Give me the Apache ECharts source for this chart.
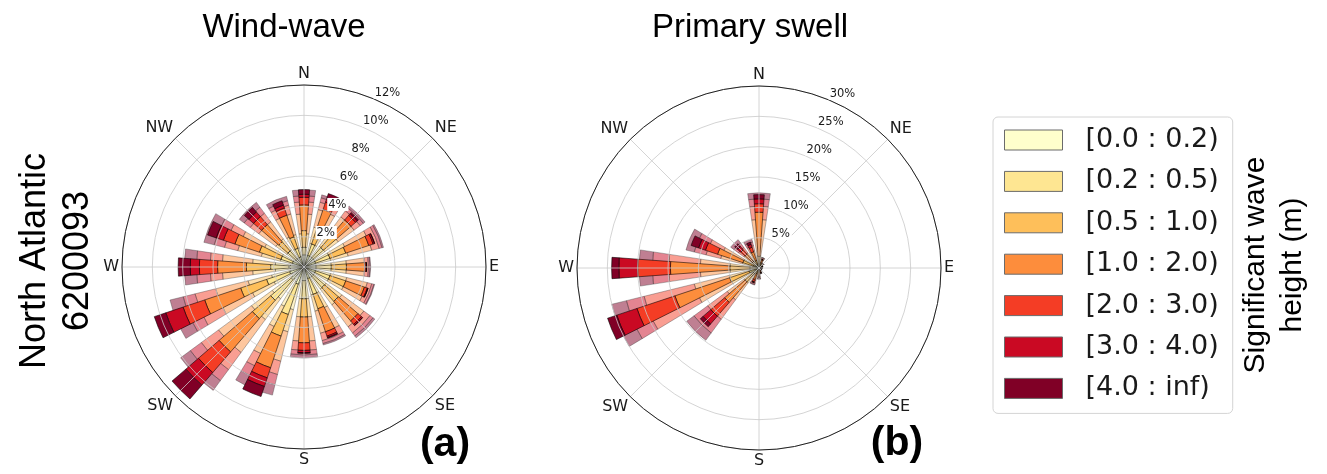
<!DOCTYPE html>
<html><head><meta charset="utf-8">
<script src="https://cdn.jsdelivr.net/npm/echarts@6/dist/echarts.min.js"></script>
<style>html,body{margin:0;padding:0;background:#fff}#c{width:1327px;height:474px}</style>
</head><body><div id="c"></div>
<script>
// 16 direction bins, clockwise from North
const directions = ['N','NNE','NE','ENE','E','ESE','SE','SSE','S','SSW','SW','WSW','W','WNW','NW','NNW'];
const compassLabels = ['N','NE','E','SE','S','SW','W','NW','N'];
const heightClasses = ['[0.0 : 0.2)','[0.2 : 0.5)','[0.5 : 1.0)','[1.0 : 2.0)','[2.0 : 3.0)','[3.0 : 4.0)','[4.0 : inf)'];
const classColors = ['#ffffcc','#fee692','#febf5a','#fd8d3c','#f43d25','#ca0923','#800026'];
const windMax = 12, windStep = 2;
const swellMax = 30, swellStep = 5;

// frequency (%) per direction (rows) and wave-height class (columns)
// Wind-wave, narrow opaque bars
const windWaveNarrow = [
  [0.8,0.5,1.1,1.7,0.5,0.2,0.3],   // N
  [0.8,0.8,1.0,1.4,0.5,0.3,0.3],   // NNE
  [0.8,0.9,1.1,1.3,0.4,0.15,0.1],  // NE
  [0.8,1.0,1.1,1.6,0.3,0.1,0.02],  // ENE
  [0.8,1.0,1.0,1.2,0.1,0.03,0.0],  // E
  [0.8,1.0,1.1,1.3,0.2,0.05,0.0],  // ESE
  [0.8,1.0,1.2,1.7,0.3,0.1,0.0],   // SE
  [0.8,1.1,1.0,1.6,0.3,0.1,0.05],  // SSE
  [0.9,1.2,1.2,1.7,0.5,0.15,0.05], // S
  [1.2,2.1,1.5,2.2,0.7,0.6,0.7],   // SSW
  [1.1,1.8,1.6,2.9,1.8,1.1,1.2],   // SW
  [1.0,1.6,1.8,2.5,1.5,1.2,0.8],   // WSW
  [1.0,1.2,1.6,1.9,1.2,0.6,0.8],   // W
  [0.8,0.8,1.5,1.7,0.8,0.5,0.6],   // WNW
  [0.7,0.7,0.8,1.5,0.7,0.4,0.4],   // NW
  [0.7,0.6,0.8,1.5,0.5,0.2,0.3]    // NNW
];
// Wind-wave, wide translucent bars
const windWaveWide = [
  [0.8,0.5,0.9,1.3,0.8,0.4,0.4],
  [0.8,0.8,1.1,1.2,0.5,0.3,0.2],
  [0.8,0.9,1.1,1.3,0.5,0.25,0.15],
  [0.8,1.0,1.2,1.6,0.5,0.2,0.1],
  [0.8,1.0,1.0,1.2,0.25,0.1,0.05],
  [0.8,1.0,1.1,1.4,0.3,0.15,0.05],
  [0.8,1.0,1.3,1.8,0.5,0.25,0.15],
  [0.8,1.1,1.1,1.5,0.5,0.2,0.1],
  [0.9,1.2,1.2,1.6,0.6,0.3,0.2],
  [1.1,1.8,1.5,2.0,0.9,0.7,0.7],
  [1.0,1.6,1.7,2.7,1.4,0.9,0.8],
  [0.9,1.3,1.6,2.2,1.4,0.8,0.9],
  [0.9,1.0,1.5,2.0,0.8,0.9,0.8],
  [0.8,0.8,1.3,1.6,0.9,0.7,0.7],
  [0.7,0.7,0.9,1.4,0.7,0.5,0.4],
  [0.7,0.6,0.9,1.4,0.6,0.3,0.3]
];
// Primary swell, narrow opaque bars
const swellNarrow = [
  [0.2,0.5,1.2,7.3,1.4,0.8,0.7],   // N
  [0.2,0.3,0.4,0.5,0.1,0.0,0.0],   // NNE
  [0.1,0.2,0.3,0.2,0.0,0.0,0.0],   // NE
  [0.1,0.1,0.2,0.2,0.0,0.0,0.0],   // ENE
  [0.1,0.1,0.15,0.15,0.0,0.0,0.0], // E
  [0.1,0.1,0.1,0.1,0.0,0.0,0.0],   // ESE
  [0.1,0.1,0.15,0.15,0.05,0.0,0.0],// SE
  [0.1,0.15,0.2,0.3,0.1,0.0,0.0],  // SSE
  [0.1,0.2,0.4,0.6,0.2,0.05,0.0],  // S
  [0.1,0.3,0.6,1.0,0.4,0.1,0.05],  // SSW
  [0.3,0.9,1.8,4.5,3.0,1.7,0.6],   // SW
  [0.4,1.3,3.4,9.5,6.6,3.5,1.6],   // WSW
  [0.3,1.2,3.3,9.8,5.4,3.1,1.2],   // W
  [0.3,0.7,1.8,4.4,2.1,1.2,1.3],   // WNW
  [0.2,0.4,0.8,1.6,1.0,0.7,0.6],   // NW
  [0.2,0.4,0.7,1.5,0.8,0.5,0.4]    // NNW
];
// Primary swell, wide translucent bars
const swellWide = [
  [0.2,0.5,1.3,6.0,2.2,1.2,1.0],
  [0.2,0.3,0.4,0.6,0.2,0.1,0.0],
  [0.1,0.2,0.3,0.3,0.1,0.0,0.0],
  [0.1,0.1,0.2,0.2,0.05,0.0,0.0],
  [0.1,0.1,0.15,0.15,0.05,0.0,0.0],
  [0.1,0.1,0.1,0.15,0.05,0.0,0.0],
  [0.1,0.1,0.15,0.2,0.05,0.0,0.0],
  [0.1,0.15,0.2,0.35,0.15,0.05,0.0],
  [0.1,0.2,0.4,0.7,0.3,0.1,0.05],
  [0.1,0.3,0.6,1.1,0.5,0.2,0.1],
  [0.3,0.9,1.8,3.5,4.0,2.8,1.5],
  [0.3,1.2,3.5,6.0,8.5,3.0,2.5],
  [0.3,1.2,3.3,4.9,5.2,2.7,2.2],
  [0.3,0.7,1.8,3.7,2.5,2.0,1.4],
  [0.2,0.4,0.8,1.7,1.1,0.9,0.7],
  [0.2,0.4,0.7,1.6,0.9,0.6,0.5]
];

const R = 182;
const roses = [
  {center:[304,267], max: windMax, step: windStep, narrow: windWaveNarrow, wide: windWaveWide},
  {center:[759,268], max: swellMax, step: swellStep, narrow: swellNarrow, wide: swellWide}
];
const polar = [], angleAxis = [], radiusAxis = [], series = [];
const gridColor = '#c9c9c9';
roses.forEach((rs, ri) => {
  const base = ri * 4;
  // 0: grid, 1: radius labels, 2: wide bars, 3: narrow bars
  for (let k = 0; k < 4; k++) polar.push({center: rs.center, radius: R});
  angleAxis.push({polarIndex: base, type:'value', min:0, max:360, interval:45, startAngle:90, clockwise:true, z:3,
    axisLine:{show:true, lineStyle:{color:'#222', width:1}}, axisTick:{show:false},
    splitLine:{show:true, lineStyle:{color:gridColor, width:0.8}},
    axisLabel:{show:true, margin:3, fontFamily:'DejaVu Sans', fontSize:16, color:'#1a1a1a', formatter: v => compassLabels[Math.round(v/45)]}});
  radiusAxis.push({polarIndex: base, type:'value', min:0, max:rs.max, interval:rs.step, z:3,
    axisLine:{show:false}, axisTick:{show:false}, axisLabel:{show:false},
    splitLine:{show:true, lineStyle:{color:gridColor, width:0.8}}});
  angleAxis.push({polarIndex: base+1, type:'value', min:0, max:360, startAngle:67.5, show:false});
  radiusAxis.push({polarIndex: base+1, type:'value', min:0, max:rs.max, interval:rs.step, z:4,
    axisLine:{show:false}, axisTick:{show:false}, splitLine:{show:false},
    axisLabel:{show:true, showMinLabel:false, margin:0, align:'left', verticalAlign:'bottom', formatter:'{value}%',
      fontFamily:'DejaVu Sans', fontSize:11.5, color:'#1a1a1a', backgroundColor:'#ffffff', padding:[1,2,0,1]}});
  for (let k = 2; k < 4; k++) {
    angleAxis.push({polarIndex: base+k, type:'category', data: directions, startAngle: 90 + 180/directions.length, clockwise:true, show:false});
    radiusAxis.push({polarIndex: base+k, type:'value', min:0, max:rs.max, show:false});
  }
});
// narrow (opaque) bars first so legend picks their colours
roses.forEach((rs, ri) => {
  heightClasses.forEach((name, c) => {
    series.push({type:'bar', name, coordinateSystem:'polar', polarIndex: ri*4+3, stack:'narrow'+ri, barWidth:'37%', z:2,
      data: rs.narrow.map(row => row[c]), silent:true,
      itemStyle:{color: classColors[c], borderColor:'rgba(0,0,0,0.8)', borderWidth:0.7}});
  });
});
roses.forEach((rs, ri) => {
  heightClasses.forEach((name, c) => {
    series.push({type:'bar', name, coordinateSystem:'polar', polarIndex: ri*4+2, stack:'wide'+ri, barWidth:'77%', z:1,
      data: rs.wide.map(row => row[c]), silent:true,
      itemStyle:{color: classColors[c], borderColor:'#333', borderWidth:0.7, opacity:0.5}});
  });
});

const chart = echarts.init(document.getElementById('c'), null, {renderer:'canvas'});
chart.setOption({
  backgroundColor:'#ffffff',
  animation:false,
  polar, angleAxis, radiusAxis, series,
  legend:{orient:'vertical', left:993, top:117, data: heightClasses, icon:'rect', selectedMode:false,
    itemWidth:58, itemHeight:20, itemGap:11.4, padding:[8,14,10,11],
    borderColor:'#d4d4d4', borderWidth:1, borderRadius:5, backgroundColor:'#fff',
    itemStyle:{borderColor:'#6b6b6b', borderWidth:1, opacity:1},
    textStyle:{fontFamily:'DejaVu Sans', fontSize:27, color:'#1a1a1a', lineHeight:30, padding:[0,0,0,18]}},
  graphic:[
    {type:'text', x:284, y:28, style:{text:'Wind-wave', font:'33px "Liberation Sans", Arial', fill:'#000', textAlign:'center', textVerticalAlign:'middle'}},
    {type:'text', x:750, y:28, style:{text:'Primary swell', font:'33px "Liberation Sans", Arial', fill:'#000', textAlign:'center', textVerticalAlign:'middle'}},
    {type:'text', x:35, y:261, rotation:Math.PI/2, style:{text:'North Atlantic', font:'36px "Liberation Sans", Arial', fill:'#000', textAlign:'center', textVerticalAlign:'middle'}},
    {type:'text', x:78, y:261, rotation:Math.PI/2, style:{text:'6200093', font:'36px "Liberation Sans", Arial', fill:'#000', textAlign:'center', textVerticalAlign:'middle'}},
    {type:'text', x:445, y:445, style:{text:'(a)', font:'bold 41px "Liberation Sans", Arial', fill:'#000', textAlign:'center', textVerticalAlign:'middle'}},
    {type:'text', x:897, y:444, style:{text:'(b)', font:'bold 41px "Liberation Sans", Arial', fill:'#000', textAlign:'center', textVerticalAlign:'middle'}},
    {type:'text', x:1256, y:265, rotation:Math.PI/2, style:{text:'Significant wave', font:'30px "Liberation Sans", Arial', fill:'#000', textAlign:'center', textVerticalAlign:'middle'}},
    {type:'text', x:1293, y:265, rotation:Math.PI/2, style:{text:'height (m)', font:'30px "Liberation Sans", Arial', fill:'#000', textAlign:'center', textVerticalAlign:'middle'}}
  ]
});
</script></body></html>
